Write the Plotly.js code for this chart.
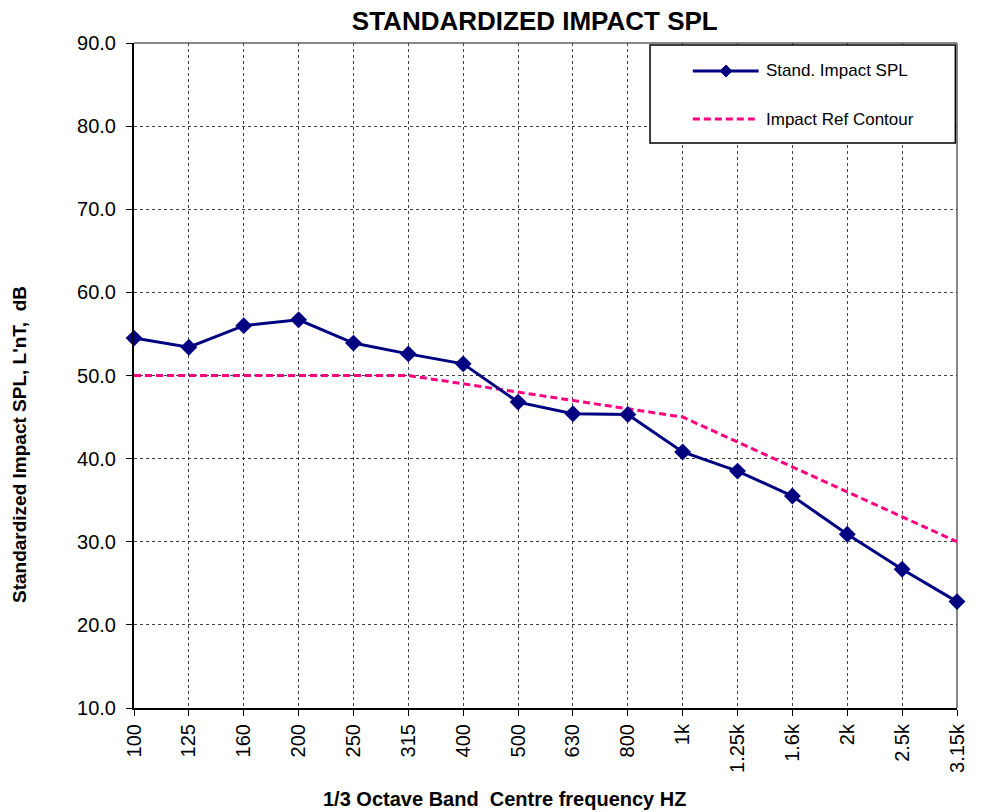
<!DOCTYPE html>
<html>
<head>
<meta charset="utf-8">
<script src="https://cdn.plot.ly/plotly-3.0.1.min.js"></script>
<style>html,body{margin:0;padding:0;background:#fff;}#chart{width:982px;height:812px;}</style>
</head>
<body>
<div id="chart"></div>
<script>
const freqLabels = ["100","125","160","200","250","315","400","500","630","800","1k","1.25k","1.6k","2k","2.5k","3.15k"];
const impactSPL = [54.5, 53.4, 56.0, 56.7, 53.9, 52.6, 51.4, 46.8, 45.4, 45.3, 40.8, 38.5, 35.5, 30.9, 26.7, 22.8];
const refContour = [50, 50, 50, 50, 50, 50, 49, 48, 47, 46, 45, 42, 39, 36, 33, 30];
const seriesNames = ["Stand. Impact SPL", "Impact Ref Contour"];

const xIdx = freqLabels.map((_, i) => i);
const FONT = "Liberation Sans, Arial, sans-serif";

const traces = [
  {
    x: xIdx, y: refContour, type: "scatter", mode: "lines", name: seriesNames[1],
    line: {color: "#FF0080", width: 3, dash: "7px,4px"}, showlegend: false, cliponaxis: false
  },
  {
    x: xIdx, y: impactSPL, type: "scatter", mode: "lines+markers", name: seriesNames[0],
    line: {color: "#000080", width: 3}, marker: {symbol: "diamond", size: 13, color: "#000080"},
    showlegend: false, cliponaxis: false
  }
];

// legend geometry (paper coords)
const lx0 = 0.627, lx1 = 0.998, ly0 = 0.8496, ly1 = 0.997;
const sx0 = 0.679, sx1 = 0.759, dcx = 0.7193;
const iy1 = 0.9579, iy2 = 0.8857;
const tx = 0.765;
const dw = 6/823, dh = 6/665;

const layout = {
  width: 982, height: 812,
  margin: {l: 134, r: 25, t: 43, b: 104},
  paper_bgcolor: "#fff", plot_bgcolor: "#fff",
  font: {family: FONT, color: "#000", size: 20},
  title: {text: "<b>STANDARDIZED IMPACT SPL</b>", font: {family: FONT, size: 26, color: "#000"},
          x: 0.487, xref: "paper", xanchor: "center", y: 1 - 21/812, yref: "container", yanchor: "middle"},
  xaxis: {
    range: [0, 15], tickvals: xIdx, ticktext: freqLabels, tickangle: -90,
    showgrid: true, gridcolor: "#444", griddash: "dot", gridwidth: 1,
    showline: true, linecolor: "#000", linewidth: 2,
    ticks: "outside", ticklen: 6, tickcolor: "#000", tickwidth: 1, ticklabelstandoff: 0,
    tickfont: {family: FONT, size: 20, color: "#000"}, zeroline: false
  },
  yaxis: {
    range: [10, 90], dtick: 10, tick0: 10, tickformat: ".1f",
    showgrid: true, gridcolor: "#444", griddash: "dot", gridwidth: 1,
    showline: true, linecolor: "#000", linewidth: 2,
    ticks: "outside", ticklen: 6, tickcolor: "#000", tickwidth: 1, ticklabelstandoff: 6,
    tickfont: {family: FONT, size: 20, color: "#000"}, zeroline: false
  },
  shapes: [
    {type: "line", xref: "paper", yref: "paper", x0: 0, x1: 1, y0: 1, y1: 1, line: {color: "#888", width: 2}, layer: "below"},
    {type: "line", xref: "paper", yref: "paper", x0: 1, x1: 1, y0: 0, y1: 1, line: {color: "#888", width: 2}, layer: "below"},
    {type: "rect", xref: "paper", yref: "paper", x0: lx0, x1: lx1, y0: ly0, y1: ly1, line: {color: "#000", width: 1.5}, fillcolor: "#fff", layer: "above"},
    {type: "line", xref: "paper", yref: "paper", x0: sx0, x1: sx1, y0: iy1, y1: iy1, line: {color: "#000080", width: 3}, layer: "above"},
    {type: "path", xref: "paper", yref: "paper",
     path: `M ${dcx-dw} ${iy1} L ${dcx} ${iy1+dh} L ${dcx+dw} ${iy1} L ${dcx} ${iy1-dh} Z`,
     fillcolor: "#000080", line: {color: "#000080", width: 1}, layer: "above"},
    {type: "line", xref: "paper", yref: "paper", x0: sx0, x1: sx1, y0: iy2, y1: iy2, line: {color: "#FF0080", width: 3, dash: "7px,4px"}, layer: "above"}
  ],
  annotations: [
    {xref: "paper", yref: "paper", x: tx, y: iy1, text: seriesNames[0], showarrow: false, xanchor: "left", yanchor: "middle", font: {family: FONT, size: 17, color: "#000"}},
    {xref: "paper", yref: "paper", x: tx, y: iy2, text: seriesNames[1], showarrow: false, xanchor: "left", yanchor: "middle", font: {family: FONT, size: 17, color: "#000"}},
    {xref: "paper", yref: "paper", x: -0.1385, y: 0.3955, textangle: -90, text: "<b>Standardized Impact SPL, L'nT,  dB</b>", showarrow: false, xanchor: "center", yanchor: "middle", font: {family: FONT, size: 19, color: "#000"}},
    {xref: "paper", yref: "paper", x: 0.4496, y: -0.1368, text: "<b>1/3 Octave Band  Centre frequency HZ</b>", showarrow: false, xanchor: "center", yanchor: "middle", font: {family: FONT, size: 20, color: "#000"}}
  ],
  showlegend: false
};

Plotly.newPlot("chart", traces, layout, {displayModeBar: false, staticPlot: true});
</script>
</body>
</html>
